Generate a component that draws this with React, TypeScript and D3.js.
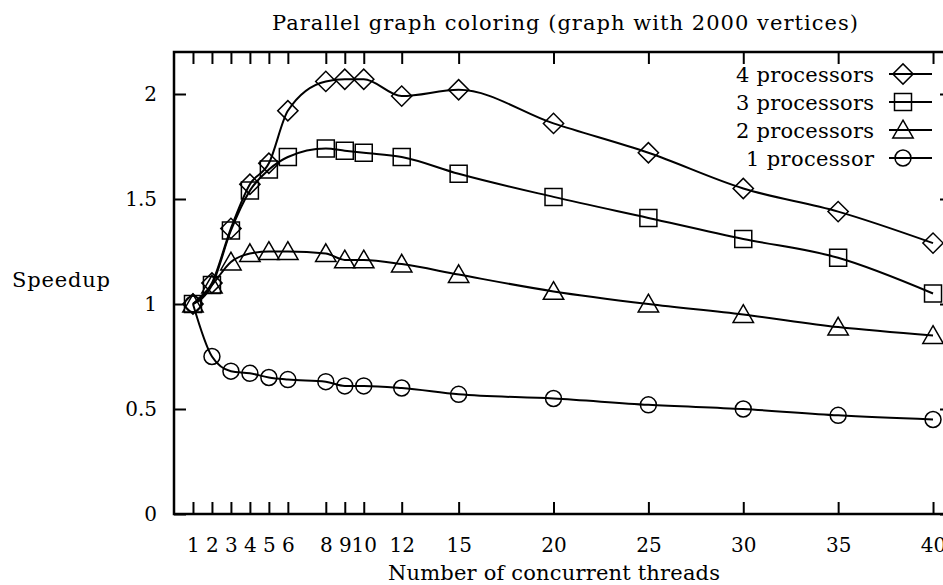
import { useEffect, useRef } from 'react';
import * as d3 from 'd3';

const threads = [1, 2, 3, 4, 5, 6, 8, 9, 10, 12, 15, 20, 25, 30, 35, 40];
const speedup4 = [1.0, 1.10, 1.36, 1.57, 1.67, 1.92, 2.06, 2.07, 2.07, 1.99, 2.02, 1.86, 1.72, 1.55, 1.44, 1.29];
const speedup3 = [1.0, 1.09, 1.35, 1.54, 1.64, 1.70, 1.74, 1.73, 1.72, 1.70, 1.62, 1.51, 1.41, 1.31, 1.22, 1.05];
const speedup2 = [1.0, 1.09, 1.20, 1.24, 1.25, 1.25, 1.24, 1.21, 1.21, 1.19, 1.14, 1.06, 1.00, 0.95, 0.89, 0.85];
const speedup1 = [1.0, 0.75, 0.68, 0.67, 0.65, 0.64, 0.63, 0.61, 0.61, 0.60, 0.57, 0.55, 0.52, 0.50, 0.47, 0.45];
const seriesNames = ['4 processors', '3 processors', '2 processors', '1 processor'];
const yTicks = [0, 0.5, 1, 1.5, 2];

export default function App() {
  const svgRef = useRef<SVGSVGElement>(null);

  useEffect(() => {
    if (!svgRef.current) return;
    document.body.style.margin = '0';

    const width = 943;
    const height = 585;
    const font = "'DejaVu Serif', serif";

    const svg = d3.select(svgRef.current);
    svg.selectAll('*').remove();
    svg.attr('width', width).attr('height', height);

    // plot box (right edge falls just outside the picture)
    const left = 174, top = 52, right = 952, bottom = 514;
    const x = d3.scaleLinear().domain([0, 41]).range([left, right]);
    const y = d3.scaleLinear().domain([0, 2.2]).range([bottom, top]);

    svg.append('defs').append('clipPath').attr('id', 'plotClip')
      .append('rect')
      .attr('x', left).attr('y', top)
      .attr('width', right - left).attr('height', bottom - top);

    // axes, ticks pointing inward
    const bottomAxis = svg.append('g')
      .attr('transform', `translate(0,${bottom})`)
      .call(d3.axisBottom(x).tickValues(threads).tickSizeInner(-12).tickSizeOuter(0).tickPadding(24));
    const topAxis = svg.append('g')
      .attr('transform', `translate(0,${top})`)
      .call(d3.axisTop(x).tickValues(threads).tickSizeInner(-12).tickSizeOuter(0).tickFormat(() => ''));
    const leftAxis = svg.append('g')
      .attr('transform', `translate(${left},0)`)
      .call(d3.axisLeft(y).tickValues(yTicks).tickSizeInner(-12).tickSizeOuter(0).tickPadding(17)
        .tickFormat(d => String(d)));
    const rightAxis = svg.append('g')
      .attr('transform', `translate(${right},0)`)
      .call(d3.axisRight(y).tickValues(yTicks).tickSizeInner(-12).tickSizeOuter(0).tickFormat(() => ''));

    [bottomAxis, topAxis, leftAxis, rightAxis].forEach(g => {
      g.select('.domain').remove();
      g.selectAll('.tick line').attr('stroke', '#000').attr('stroke-width', 2);
      g.selectAll('.tick text')
        .attr('fill', '#000')
        .attr('font-family', font)
        .attr('font-size', 20);
    });

    svg.append('rect')
      .attr('x', left).attr('y', top)
      .attr('width', right - left).attr('height', bottom - top)
      .attr('fill', 'none')
      .attr('stroke', '#000')
      .attr('stroke-width', 2.5);

    // series
    const series = [speedup4, speedup3, speedup2, speedup1];
    const symbols = [
      d3.symbol(d3.symbolSquare, 205),
      d3.symbol(d3.symbolSquare, 289),
      d3.symbol(d3.symbolTriangle, 180),
      d3.symbol(d3.symbolCircle, 200),
    ];
    const rotations = [45, 0, 0, 0];
    const triShift = [0, 0, 2, 0];

    const line = d3.line<number>()
      .x((_, i) => x(threads[i]))
      .y(d => y(d))
      .curve(d3.curveMonotoneX);

    const plot = svg.append('g').attr('clip-path', 'url(#plotClip)');

    series.forEach((values, s) => {
      plot.append('path')
        .datum(values)
        .attr('d', line)
        .attr('fill', 'none')
        .attr('stroke', '#000')
        .attr('stroke-width', 2);

      plot.selectAll(`.m${s}`)
        .data(values)
        .enter()
        .append('path')
        .attr('class', `m${s}`)
        .attr('d', symbols[s]())
        .attr('transform', (d, i) =>
          `translate(${x(threads[i])},${y(d) + triShift[s]}) rotate(${rotations[s]})`)
        .attr('fill', 'none')
        .attr('stroke', '#000')
        .attr('stroke-width', 1.5);
    });

    // legend
    const legendRows = [74, 102, 130, 158];
    const legendWidths = [138, 138, 138, 128];
    seriesNames.forEach((name, s) => {
      const cy = legendRows[s];
      svg.append('text')
        .attr('x', 874)
        .attr('y', cy + 8)
        .attr('text-anchor', 'end')
        .attr('font-family', font)
        .attr('font-size', 21)
        .attr('textLength', legendWidths[s])
        .attr('lengthAdjust', 'spacing')
        .text(name);
      svg.append('line')
        .attr('x1', 889).attr('x2', 932)
        .attr('y1', cy).attr('y2', cy)
        .attr('stroke', '#000')
        .attr('stroke-width', 2);
      svg.append('path')
        .attr('d', symbols[s]())
        .attr('transform', `translate(903,${cy + triShift[s]}) rotate(${rotations[s]})`)
        .attr('fill', 'none')
        .attr('stroke', '#000')
        .attr('stroke-width', 1.5);
    });

    // titles
    svg.append('text')
      .attr('x', 565).attr('y', 30)
      .attr('text-anchor', 'middle')
      .attr('font-family', font)
      .attr('font-size', 21)
      .attr('textLength', 586)
      .attr('lengthAdjust', 'spacing')
      .text('Parallel graph coloring (graph with 2000 vertices)');

    svg.append('text')
      .attr('x', 554).attr('y', 580)
      .attr('text-anchor', 'middle')
      .attr('font-family', font)
      .attr('font-size', 21)
      .attr('textLength', 332)
      .attr('lengthAdjust', 'spacing')
      .text('Number of concurrent threads');

    svg.append('text')
      .attr('x', 12).attr('y', 287)
      .attr('font-family', font)
      .attr('font-size', 21)
      .attr('textLength', 98)
      .attr('lengthAdjust', 'spacing')
      .text('Speedup');
  }, []);

  return (
    <div style={{ width: 943, height: 585, background: '#fff' }}>
      <svg ref={svgRef} style={{ display: 'block' }}></svg>
    </div>
  );
}
